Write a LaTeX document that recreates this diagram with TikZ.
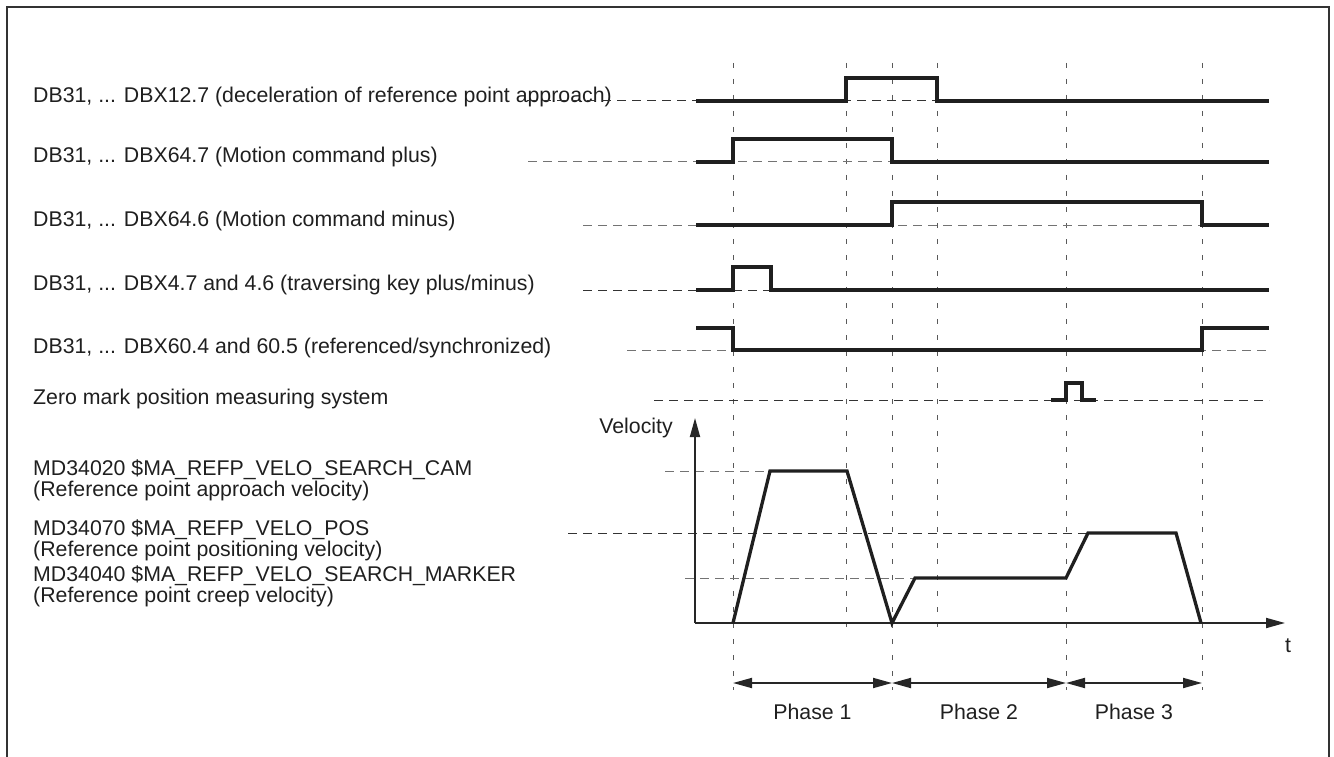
\documentclass[tikz,border=0pt]{standalone}
\usepackage{fontspec}
\setmainfont{Liberation Sans}
\usetikzlibrary{arrows.meta}
\begin{document}
\begin{tikzpicture}[x=1pt,y=-1pt,
  sig/.style={line width=3.3pt, black!88, line join=miter},
  lead/.style={line width=1pt, black!80, dash pattern=on 9pt off 6pt},
  leadg/.style={line width=1pt, black!55, dash pattern=on 9pt off 6pt},
  vdash/.style={line width=1pt, black!65, dash pattern=on 5pt off 11pt},
  axis/.style={line width=1.8pt, black!85, -{Triangle[length=19pt,width=10pt]}},
  phase/.style={line width=1.8pt, black!85, {Triangle[length=19pt,width=10pt]}-{Triangle[length=19pt,width=10pt]}},
  lbl/.style={inner sep=0pt, anchor=base west, font=\fontsize{21.3}{22}\selectfont, text=black!88},
  clbl/.style={inner sep=0pt, anchor=base, font=\fontsize{21.3}{22}\selectfont, text=black!88}]
\useasboundingbox (0,0) rectangle (1334,757);
% frame (open at bottom)
\draw[line width=2pt, black!80] (7,757) -- (7,7) -- (1329,7) -- (1329,757);

% vertical dashed time markers
\foreach \x in {733,892,1066,1202} \draw[vdash] (\x,63) -- (\x,690);
\foreach \x in {846,937} \draw[vdash] (\x,63) -- (\x,627);

% labels
\node[lbl] (l1) at (33,103) {DB31, ... DBX12.7 (deceleration of reference point approach)};
\node[lbl] (l2) at (33,163) {DB31, ... DBX64.7 (Motion command plus)};
\node[lbl] (l3) at (33,226) {DB31, ... DBX64.6 (Motion command minus)};
\node[lbl] (l4) at (33,290) {DB31, ... DBX4.7 and 4.6 (traversing key plus/minus)};
\node[lbl] (l5) at (33,353) {DB31, ... DBX60.4 and 60.5 (referenced/synchronized)};
\node[lbl] (l6) at (33,404) {Zero mark position measuring system};
\node[lbl] (m1a) at (33,475) {MD34020 \$MA\_REFP\_VELO\_SEARCH\_CAM};
\node[lbl] (m1b) at (33,496) {(Reference point approach velocity)};
\node[lbl] (m2a) at (33,535) {MD34070 \$MA\_REFP\_VELO\_POS};
\node[lbl] (m2b) at (33,556) {(Reference point positioning velocity)};
\node[lbl] (m3a) at (33,581) {MD34040 \$MA\_REFP\_VELO\_SEARCH\_MARKER};
\node[lbl] (m3b) at (33,602) {(Reference point creep velocity)};
\node[clbl] (vel) at (636,433) {Velocity};
\node[clbl] (tl) at (1288,652) {t};
\node[clbl] (ph1) at (812.5,719) {Phase 1};
\node[clbl] (ph2) at (979,719) {Phase 2};
\node[clbl] (ph3) at (1134,719) {Phase 3};

% leader / baseline dashed lines
\draw[lead]  (527,101) -- (1269,101);
\draw[leadg] (528,162) -- (1269,162);
\draw[leadg] (583,225) -- (1269,225);
\draw[lead]  (583,290) -- (1269,290);
\draw[leadg] (627,350) -- (1269,350);
\draw[lead]  (654,400) -- (1269,400);

% signals
\draw[sig] (696,101) -- (846,101) -- (846,78) -- (937,78) -- (937,101) -- (1269,101);
\draw[sig] (696,162) -- (733,162) -- (733,139) -- (892,139) -- (892,162) -- (1269,162);
\draw[sig] (696,225) -- (892,225) -- (892,202) -- (1202,202) -- (1202,225) -- (1269,225);
\draw[sig] (696,290) -- (733,290) -- (733,267) -- (771,267) -- (771,290) -- (1269,290);
\draw[sig] (696,328) -- (733,328) -- (733,350) -- (1202,350) -- (1202,328) -- (1269,328);
\draw[sig] (1051,400) -- (1066,400) -- (1066,383) -- (1082,383) -- (1082,400) -- (1096,400);

% velocity levels
\draw[leadg] (665,471) -- (770,471);
\draw[lead]  (568,533) -- (1088,533);
\draw[leadg] (685,578) -- (915,578);

% axes
\coordinate (org) at (695,623);
\coordinate (vtop) at (695,418);
\coordinate (tend) at (1285,623);
\draw[axis] (org) -- (vtop);
\draw[axis] (org) -- (tend);

% velocity profile
\draw[sig] (733,623) -- (770,471) -- (847,471) -- (892,623) -- (915,578) -- (1066,578)
  -- (1088,533) -- (1176,533) -- (1201,623);

% phase arrows
\coordinate (p0) at (733,683);
\coordinate (p1) at (892,683);
\coordinate (p2) at (1066,683);
\coordinate (p3) at (1202,683);
\draw[phase] (p0) -- (p1);
\draw[phase] (p1) -- (p2);
\draw[phase] (p2) -- (p3);
\end{tikzpicture}
\end{document}
